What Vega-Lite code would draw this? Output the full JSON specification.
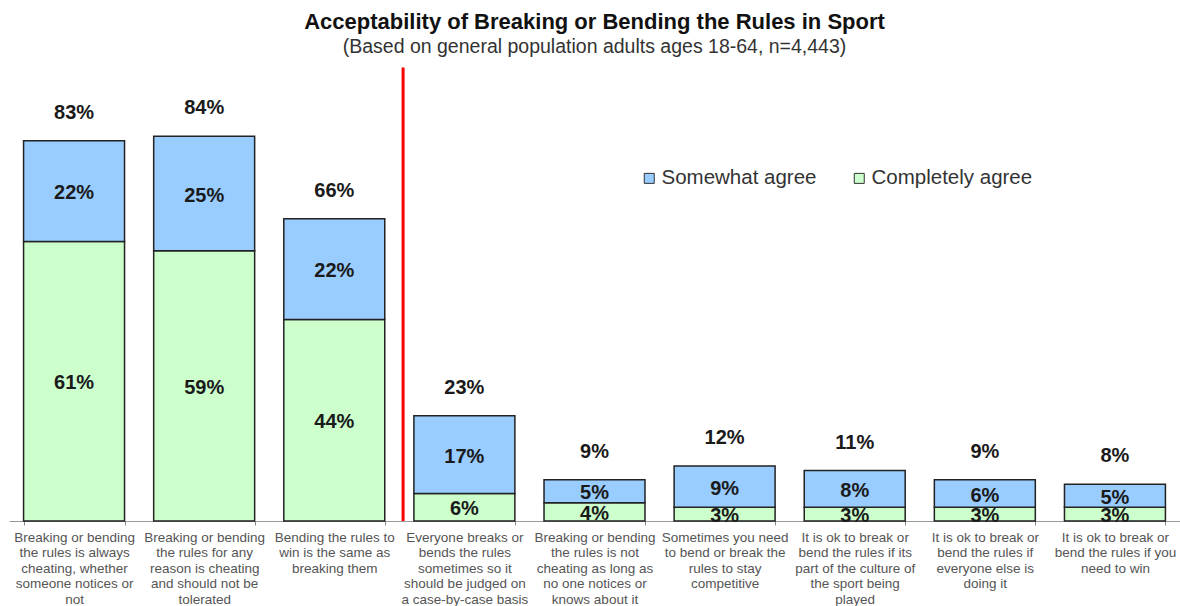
{
  "$schema": "https://vega.github.io/schema/vega-lite/v6.json",
  "width": 1171,
  "height": 458,
  "autosize": {"type": "none"},
  "padding": {"left": 9, "top": 63, "right": 0, "bottom": 85},
  "background": "white",
  "title": {
    "text": "Acceptability of Breaking or Bending the Rules in Sport",
    "subtitle": "(Based on general population adults ages 18-64, n=4,443)",
    "anchor": "middle",
    "font": "Liberation Sans",
    "fontSize": 22,
    "fontWeight": "bold",
    "color": "#111111",
    "subtitleFont": "Liberation Sans",
    "subtitleFontSize": 19.5,
    "subtitleColor": "#333333",
    "subtitlePadding": 4,
    "offset": 6
  },
  "config": {"view": {"stroke": null}, "font": "Liberation Sans"},
  "data": {
    "values": [
      {"cat": "Breaking or bending|the rules is always|cheating, whether|someone notices or|not", "type": "Completely agree", "ord": 1, "pct": 0.61, "total": 0.83},
      {"cat": "Breaking or bending|the rules is always|cheating, whether|someone notices or|not", "type": "Somewhat agree", "ord": 2, "pct": 0.22, "total": 0.83},
      {"cat": "Breaking or bending|the rules for any|reason is cheating|and should not be|tolerated", "type": "Completely agree", "ord": 1, "pct": 0.59, "total": 0.84},
      {"cat": "Breaking or bending|the rules for any|reason is cheating|and should not be|tolerated", "type": "Somewhat agree", "ord": 2, "pct": 0.25, "total": 0.84},
      {"cat": "Bending the rules to|win is the same as|breaking them", "type": "Completely agree", "ord": 1, "pct": 0.44, "total": 0.66},
      {"cat": "Bending the rules to|win is the same as|breaking them", "type": "Somewhat agree", "ord": 2, "pct": 0.22, "total": 0.66},
      {"cat": "Everyone breaks or|bends the rules|sometimes so it|should be judged on|a case-by-case basis", "type": "Completely agree", "ord": 1, "pct": 0.06, "total": 0.23},
      {"cat": "Everyone breaks or|bends the rules|sometimes so it|should be judged on|a case-by-case basis", "type": "Somewhat agree", "ord": 2, "pct": 0.17, "total": 0.23},
      {"cat": "Breaking or bending|the rules is not|cheating as long as|no one notices or|knows about it", "type": "Completely agree", "ord": 1, "pct": 0.04, "total": 0.09},
      {"cat": "Breaking or bending|the rules is not|cheating as long as|no one notices or|knows about it", "type": "Somewhat agree", "ord": 2, "pct": 0.05, "total": 0.09},
      {"cat": "Sometimes you need|to bend or break the|rules to stay|competitive", "type": "Completely agree", "ord": 1, "pct": 0.03, "total": 0.12},
      {"cat": "Sometimes you need|to bend or break the|rules to stay|competitive", "type": "Somewhat agree", "ord": 2, "pct": 0.09, "total": 0.12},
      {"cat": "It is ok to break or|bend the rules if its|part of the culture of|the sport being|played", "type": "Completely agree", "ord": 1, "pct": 0.03, "total": 0.11},
      {"cat": "It is ok to break or|bend the rules if its|part of the culture of|the sport being|played", "type": "Somewhat agree", "ord": 2, "pct": 0.08, "total": 0.11},
      {"cat": "It is ok to break or|bend the rules if|everyone else is|doing it", "type": "Completely agree", "ord": 1, "pct": 0.03, "total": 0.09},
      {"cat": "It is ok to break or|bend the rules if|everyone else is|doing it", "type": "Somewhat agree", "ord": 2, "pct": 0.06, "total": 0.09},
      {"cat": "It is ok to break or|bend the rules if you|need to win", "type": "Completely agree", "ord": 1, "pct": 0.03, "total": 0.08},
      {"cat": "It is ok to break or|bend the rules if you|need to win", "type": "Somewhat agree", "ord": 2, "pct": 0.05, "total": 0.08}
    ]
  },
  "encoding": {
    "x": {
      "field": "cat",
      "type": "nominal",
      "scale": {
        "domain": [
          "Breaking or bending|the rules is always|cheating, whether|someone notices or|not",
          "Breaking or bending|the rules for any|reason is cheating|and should not be|tolerated",
          "Bending the rules to|win is the same as|breaking them",
          "Everyone breaks or|bends the rules|sometimes so it|should be judged on|a case-by-case basis",
          "Breaking or bending|the rules is not|cheating as long as|no one notices or|knows about it",
          "Sometimes you need|to bend or break the|rules to stay|competitive",
          "It is ok to break or|bend the rules if its|part of the culture of|the sport being|played",
          "It is ok to break or|bend the rules if|everyone else is|doing it",
          "It is ok to break or|bend the rules if you|need to win"
        ],
        "paddingInner": 0.224,
        "paddingOuter": 0.112
      },
      "axis": {
        "title": null,
        "labelAngle": 0,
        "labelExpr": "split(datum.label, '|')",
        "labelFont": "Liberation Sans",
        "labelFontSize": 13.5,
        "labelColor": "#555555",
        "labelLineHeight": 15.5,
        "labelBaseline": "top",
        "labelPadding": 5,
        "labelLimit": 0,
        "labelOverlap": false,
        "tickBand": "extent",
        "tickSize": 4,
        "tickColor": "#888888",
        "domainColor": "#999999",
        "grid": false
      }
    }
  },
  "layer": [
    {
      "mark": {"type": "bar", "stroke": "#222222", "strokeWidth": 1.5},
      "encoding": {
        "y": {"field": "pct", "type": "quantitative", "stack": "zero", "scale": {"domain": [0, 1]}, "axis": null},
        "order": {"field": "ord", "type": "quantitative"},
        "color": {
          "field": "type",
          "type": "nominal",
          "scale": {"domain": ["Somewhat agree", "Completely agree"], "range": ["#99CCFF", "#CCFFCC"]},
          "legend": {
            "orient": "none",
            "legendX": 630,
            "legendY": 105,
            "direction": "horizontal",
            "title": null,
            "symbolType": "square",
            "symbolSize": 100,
            "symbolStrokeColor": "#333333",
            "symbolStrokeWidth": 1,
            "labelFont": "Liberation Sans",
            "labelFontSize": 20.5,
            "labelColor": "#333333",
            "labelOffset": 2,
            "labelLimit": 0,
            "columnPadding": 32
          }
        }
      }
    },
    {
      "transform": [
        {"stack": "pct", "groupby": ["cat"], "sort": [{"field": "ord"}], "as": ["v0", "v1"]},
        {"calculate": "(datum.v0 + datum.v1) / 2", "as": "mid"}
      ],
      "mark": {"type": "text", "font": "Liberation Sans", "fontSize": 20, "fontWeight": "bold", "color": "#1a1a1a", "baseline": "middle", "dy": 2},
      "encoding": {
        "y": {"field": "mid", "type": "quantitative"},
        "text": {"field": "pct", "type": "quantitative", "format": ".0%"}
      }
    },
    {
      "transform": [{"filter": "datum.ord == 2"}],
      "mark": {"type": "text", "font": "Liberation Sans", "fontSize": 20, "fontWeight": "bold", "color": "#1a1a1a", "baseline": "middle", "dy": -28},
      "encoding": {
        "y": {"field": "total", "type": "quantitative"},
        "text": {"field": "total", "type": "quantitative", "format": ".0%"}
      }
    },
    {
      "transform": [{"filter": "datum.ord == 2 && indexof(datum.cat, 'Everyone') == 0"}],
      "mark": {"type": "rule", "color": "#FF0000", "strokeWidth": 3},
      "encoding": {
        "x": {"field": "cat", "type": "nominal", "bandPosition": -0.107},
        "y": {"datum": 0.99, "type": "quantitative"},
        "y2": {"datum": 0}
      }
    }
  ]
}
